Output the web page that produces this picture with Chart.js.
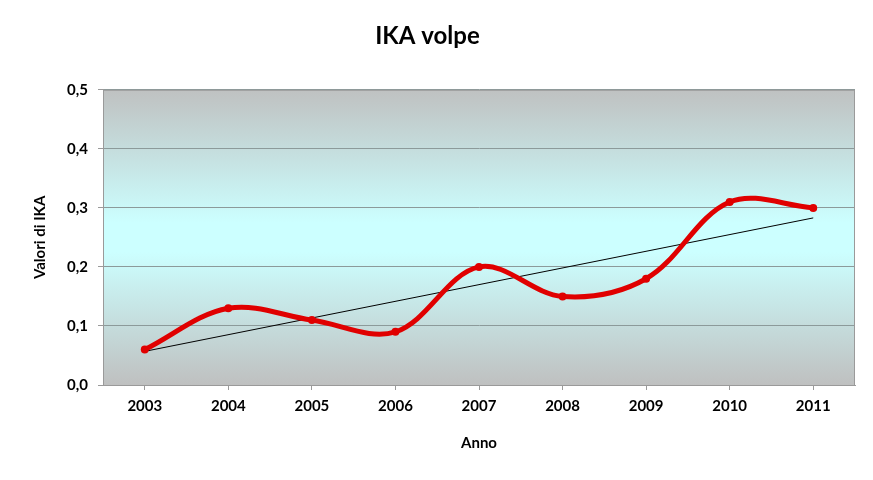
<!DOCTYPE html>
<html>
<head>
<meta charset="utf-8">
<script src="https://cdn.jsdelivr.net/npm/chart.js@4"></script>
<style>
	html, body { margin: 0; padding: 0; background: #fff; }
	#wrap { width: 873px; height: 480px; }
</style>
</head>
<body>
<div id="wrap"><canvas id="grafico-ika"></canvas></div>
<script>
var anni = ["2003", "2004", "2005", "2006", "2007", "2008", "2009", "2010", "2011"];
var valoriIka = [0.06, 0.13, 0.11, 0.09, 0.20, 0.15, 0.18, 0.31, 0.30];
// linea di tendenza, solo estremi
var tendenza = [0.057, null, null, null, null, null, null, null, 0.283];

var fontFamily = "Lato, 'Open Sans', sans-serif";

// sfondo sfumato dell'area del grafico
var sfondoArea = {
	id: 'sfondoArea',
	beforeDraw: function(chart) {
		var ctx = chart.ctx;
		var a = chart.chartArea;
		var g = ctx.createLinearGradient(0, a.top, 0, a.bottom);
		g.addColorStop(0, '#bfc1c1');
		g.addColorStop(0.45, '#ccffff');
		g.addColorStop(0.55, '#ccffff');
		g.addColorStop(1, '#bfc0c0');
		ctx.save();
		ctx.fillStyle = g;
		ctx.fillRect(a.left, a.top, a.right - a.left, a.bottom - a.top);
		ctx.restore();
	},
	afterDatasetsDraw: function(chart) {
		var ctx = chart.ctx;
		var a = chart.chartArea;
		ctx.save();
		ctx.strokeStyle = '#9a9a9a';
		ctx.lineWidth = 1;
		ctx.strokeRect(a.left + 0.5, a.top + 0.5, a.right - a.left - 1, a.bottom - a.top);
		ctx.restore();
	}
};

var ctx = document.getElementById("grafico-ika");
var grafico = new Chart(ctx, {
	type: 'line',
	data: {
		labels: anni,
		datasets: [
		{
			data: valoriIka,
			borderColor: '#e00000',
			backgroundColor: '#e00000',
			borderWidth: 5,
			pointRadius: 4,
			pointBorderWidth: 0,
			tension: 0.35,
			order: 1
		},
		{
			data: tendenza,
			borderColor: '#000000',
			borderWidth: 1,
			pointRadius: 0,
			spanGaps: true,
			order: 2
		}]
	},
	plugins: [sfondoArea],
	options: {
		responsive: true,
		maintainAspectRatio: false,
		animation: false,
		layout: { padding: { left: 0, right: 18, top: 0, bottom: 22 } },
		plugins: {
			legend: { display: false },
			tooltip: { enabled: false },
			title: {
				display: true,
				text: 'IKA volpe',
				color: '#000',
				font: { family: fontFamily, size: 24, weight: 'bold' },
				padding: { top: 22, bottom: 39 }
			}
		},
		scales: {
			x: {
				offset: true,
				grid: {
					drawOnChartArea: false,
					drawTicks: true,
					tickLength: 5,
					color: '#9a9a9a'
				},
				border: { color: '#9a9a9a' },
				ticks: {
					color: '#000',
					padding: 7,
					maxRotation: 0,
					font: { family: fontFamily, size: 15, weight: 'bold' }
				},
				title: {
					display: true,
					text: 'Anno',
					color: '#000',
					font: { family: fontFamily, size: 15, weight: 'bold' },
					padding: { top: 4, bottom: 6 }
				},
				afterFit: function(scale) { scale.height = 73; }
			},
			y: {
				min: 0,
				max: 0.5,
				ticks: {
					stepSize: 0.1,
					color: '#000',
					padding: 10,
					font: { family: fontFamily, size: 15, weight: 'bold' },
					callback: function(v) { return v.toFixed(1).replace('.', ','); }
				},
				grid: {
					color: '#8c9a9a',
					tickLength: 5,
					tickColor: '#9a9a9a'
				},
				border: { color: '#9a9a9a' },
				title: {
					display: true,
					text: 'Valori di IKA',
					color: '#000',
					font: { family: fontFamily, size: 15, weight: 'bold' },
					padding: { top: 31, bottom: 0 }
				},
				afterFit: function(scale) { scale.width = 103; }
			}
		}
	}
});
</script>
</body>
</html>
